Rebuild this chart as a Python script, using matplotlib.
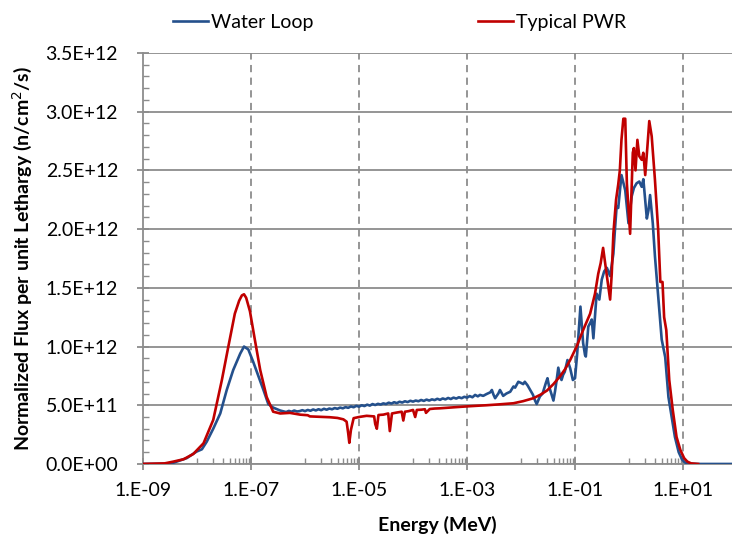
import numpy as np
import matplotlib
matplotlib.use("Agg")
import matplotlib.pyplot as plt
from matplotlib.ticker import FixedLocator, FuncFormatter, MultipleLocator

plt.rcParams['font.family'] = ['Lato', 'DejaVu Sans']

# ---------------- data (log10 of energy in MeV, flux in 1E+11 n/cm2/s) ----------------
water_logE = [
    -9.06, -8.60, -8.44, -8.19, -8.01, -7.91, -7.82, -7.70, -7.57, -7.45, -7.33, -7.20,
    -7.13, -7.05, -6.96, -6.86, -6.77, -6.68, -6.59, -6.46,
    -6.40, -6.35, -6.30, -6.25, -6.20, -6.15, -6.10, -6.05, -6.00, -5.95, -5.90, -5.85,
    -5.80, -5.75, -5.70, -5.65, -5.60, -5.55, -5.50, -5.45, -5.40, -5.35, -5.30, -5.25,
    -5.20, -5.15, -5.10, -5.05, -5.00, -4.95, -4.90, -4.85, -4.80, -4.75, -4.70, -4.65,
    -4.60, -4.55, -4.50, -4.45, -4.40, -4.35, -4.30, -4.25, -4.20, -4.15, -4.10, -4.05,
    -4.00, -3.95, -3.90, -3.85, -3.80, -3.75, -3.70, -3.65, -3.60, -3.55, -3.50, -3.45,
    -3.40, -3.35, -3.30, -3.25, -3.20, -3.15, -3.10, -3.05, -3.00, -2.95, -2.90, -2.85,
    -2.80, -2.76, -2.70, -2.64, -2.57, -2.54, -2.51, -2.48, -2.42, -2.39, -2.33, -2.27,
    -2.20, -2.14, -2.11, -2.05, -2.00, -1.96, -1.93, -1.88, -1.83, -1.78, -1.74, -1.71,
    -1.65, -1.60, -1.57, -1.54, -1.51, -1.48, -1.46, -1.40, -1.37, -1.34, -1.31, -1.28,
    -1.25, -1.22, -1.19, -1.14, -1.09, -1.04, -1.00, -0.96, -0.90, -0.85, -0.815, -0.80,
    -0.754, -0.72, -0.69, -0.66, -0.60, -0.55, -0.505, -0.46, -0.41, -0.35, -0.29, -0.26,
    -0.23, -0.20, -0.14, -0.07, -0.01, 0.05, 0.09, 0.14, 0.19, 0.235, 0.265, 0.30,
    0.33, 0.36, 0.39, 0.44, 0.48, 0.54, 0.605, 0.67, 0.73, 0.79, 0.85, 0.92,
    0.98, 1.03, 1.08, 1.15, 1.30, 1.60, 1.95,
]
water_flux = [
    0.00, 0.02, 0.10, 0.50, 1.05, 1.25, 1.90, 3.00, 4.30, 6.30, 8.00, 9.40,
    10.00, 9.75, 8.70, 7.45, 6.30, 5.10, 4.80, 4.55,
    4.48, 4.42, 4.52, 4.45, 4.55, 4.47, 4.50, 4.58, 4.50, 4.60, 4.53, 4.64,
    4.56, 4.66, 4.58, 4.70, 4.62, 4.72, 4.66, 4.76, 4.70, 4.80, 4.74, 4.84,
    4.78, 4.90, 4.83, 4.95, 4.88, 5.00, 4.93, 5.05, 4.97, 5.10, 5.02, 5.12,
    5.06, 5.16, 5.10, 5.22, 5.14, 5.26, 5.18, 5.30, 5.23, 5.34, 5.27, 5.38,
    5.31, 5.40, 5.34, 5.45, 5.37, 5.48, 5.40, 5.50, 5.44, 5.55, 5.46, 5.58,
    5.50, 5.62, 5.53, 5.65, 5.57, 5.68, 5.60, 5.72, 5.65, 5.78, 5.68, 5.88,
    5.76, 5.88, 5.80, 5.95, 6.10, 6.30, 5.90, 5.60, 6.00, 6.30, 5.80, 6.00,
    6.15, 6.60, 6.50, 7.00, 6.90, 6.80, 7.00, 6.70, 6.30, 5.90, 5.40, 5.10,
    5.75, 6.00, 6.45, 6.90, 7.30, 6.60, 6.30, 5.40, 6.20, 7.15, 8.20, 7.50,
    7.15, 7.60, 7.85, 8.85, 8.15, 7.15, 7.30, 9.40, 13.40, 10.30, 9.28, 9.15,
    11.70, 12.00, 12.30, 10.70, 14.50, 14.00, 15.70, 16.40, 16.70, 16.00, 17.90, 20.00,
    21.90, 21.80, 24.60, 23.30, 20.50, 22.80, 23.50, 23.90, 24.05, 23.60, 24.25, 22.50,
    20.90, 21.60, 22.90, 20.50, 17.70, 14.25, 10.60, 9.10, 5.70, 4.00, 2.30, 1.00,
    0.40, 0.15, 0.05, 0.02, 0.00, 0.00, 0.00,
]

pwr_logE = [
    -9.06, -8.60, -8.44, -8.25, -8.07, -7.88, -7.70, -7.54, -7.42, -7.30, -7.22, -7.17,
    -7.13, -7.09, -7.02, -6.93, -6.83, -6.71, -6.59, -6.46, -6.28, -6.09, -5.95, -5.91,
    -5.75, -5.54, -5.40, -5.29, -5.23, -5.20, -5.18, -5.15, -5.10, -5.00, -4.86, -4.72,
    -4.70, -4.67, -4.64, -4.55, -4.46, -4.43, -4.39, -4.30, -4.21, -4.18, -4.15, -4.08,
    -4.00, -3.96, -3.93, -3.85, -3.78, -3.76, -3.69, -3.60, -3.50, -3.38, -3.20, -3.01,
    -2.80, -2.64, -2.39, -2.14, -1.96, -1.77, -1.64, -1.52, -1.40, -1.28, -1.18, -1.09,
    -0.97, -0.85, -0.72, -0.63, -0.57, -0.525, -0.48, -0.41, -0.35, -0.32, -0.29, -0.24,
    -0.20, -0.17, -0.14, -0.105, -0.07, -0.04, 0.02, 0.07, 0.09, 0.12, 0.155, 0.19,
    0.235, 0.265, 0.30, 0.34, 0.375, 0.42, 0.48, 0.54, 0.58, 0.62, 0.65, 0.69,
    0.745, 0.81, 0.88, 0.95, 1.02, 1.08, 1.15, 1.28,
]
pwr_flux = [
    0.00, 0.05, 0.20, 0.40, 0.85, 1.76, 3.75, 7.15, 10.00, 12.80, 13.90, 14.35,
    14.45, 14.15, 13.00, 10.60, 8.00, 5.70, 4.45, 4.30, 4.35, 4.20, 4.15, 4.05,
    4.02, 3.98, 3.92, 3.80, 3.60, 2.60, 1.80, 2.90, 3.90, 4.00, 4.10, 4.05,
    3.40, 3.00, 4.17, 4.20, 4.30, 2.80, 4.30, 4.38, 4.45, 3.70, 4.45, 4.50,
    4.60, 4.00, 4.60, 4.62, 4.66, 4.35, 4.68, 4.72, 4.74, 4.78, 4.84, 4.90,
    4.96, 5.00, 5.08, 5.17, 5.35, 5.60, 5.90, 6.25, 6.80, 7.45, 8.10, 8.85,
    10.00, 11.40, 12.80, 14.50, 16.20, 17.10, 18.40, 16.00, 14.00, 16.20, 19.60, 22.50,
    23.80, 25.00, 27.60, 29.40, 29.40, 23.90, 19.60, 26.50, 26.90, 25.00, 27.60, 26.20,
    25.90, 26.50, 24.60, 27.00, 29.20, 27.90, 24.20, 19.90, 15.50, 15.50, 12.50, 11.40,
    7.15, 4.60, 2.30, 1.20, 0.50, 0.20, 0.05, 0.00,
]

series_names = ["Water Loop", "Typical PWR"]
y_ticks = [0.0, 5.0e11, 1.0e12, 1.5e12, 2.0e12, 2.5e12, 3.0e12, 3.5e12]
y_tick_labels = ["0.0E+00", "5.0E+11", "1.0E+12", "1.5E+12", "2.0E+12", "2.5E+12",
                 "3.0E+12", "3.5E+12"]
x_tick_exps = [-9, -7, -5, -3, -1, 1]
x_tick_labels = ["1.E-09", "1.E-07", "1.E-05", "1.E-03", "1.E-01", "1.E+01"]

# ---------------- figure ----------------
fig = plt.figure(figsize=(7.32, 5.37), dpi=100)
ax = fig.add_axes([0.1954, 0.136, 0.8046, 0.7654])

blue = '#24508C'
red = '#C00000'
grid_c = '#8C8C8C'

wE = 10.0 ** np.array(water_logE)
wF = np.array(water_flux) * 1e11
pE = 10.0 ** np.array(pwr_logE)
pF = np.array(pwr_flux) * 1e11

l1, = ax.plot(wE, wF, color=blue, lw=1.9, label=series_names[0], zorder=3)
l2, = ax.plot(pE, pF, color=red, lw=1.9, label=series_names[1], zorder=4)

ax.set_xscale('log')
ax.set_xlim(1e-9, 10 ** 1.907)
ax.set_ylim(0, 3.5e12)

# y ticks and grid
ax.set_yticks(y_ticks)
ax.set_yticklabels(y_tick_labels)
ax.yaxis.set_minor_locator(MultipleLocator(1e11))
ax.grid(axis='y', which='major', color=grid_c, lw=1.3, ls='-', zorder=1)

# x ticks
ax.xaxis.set_major_locator(FixedLocator([10.0 ** e for e in x_tick_exps]))
ax.set_xticklabels(x_tick_labels)
minor_x = [k * 10.0 ** e for e in (-8, -6, -4, -2, 0) for k in range(1, 10)]
ax.xaxis.set_minor_locator(FixedLocator(minor_x))
ax.xaxis.set_minor_formatter(FuncFormatter(lambda v, p: ""))
for e in x_tick_exps[1:]:
    ax.axvline(10.0 ** e, color=grid_c, lw=1.3, ls=(0, (4, 3)), zorder=1)

for s in ['top', 'right']:
    ax.spines[s].set_visible(False)
for s in ['left', 'bottom']:
    ax.spines[s].set_color(grid_c)
    ax.spines[s].set_linewidth(1.3)

ax.tick_params(axis='both', which='major', direction='inout', length=8, width=1.3,
               color=grid_c, labelsize=14, labelcolor='black')
ax.tick_params(axis='both', which='minor', direction='in', length=4, width=1.0,
               color=grid_c)
ax.tick_params(axis='y', which='major', pad=14)
ax.tick_params(axis='x', which='major', pad=9)

ax.set_xlabel("Energy (MeV)", fontsize=14, fontweight='bold', labelpad=12)
ax.set_ylabel("Normalized Flux per unit Lethargy (n/cm$^2$/s)", fontsize=14,
              fontweight='bold', labelpad=8)

fig.legend(handles=[l1, l2], loc='center', bbox_to_anchor=(0.546, 0.959), ncol=2,
           frameon=False, fontsize=14, handlelength=1.8, handletextpad=0.15,
           columnspacing=8.5)

fig.savefig("out.png", dpi=100)
